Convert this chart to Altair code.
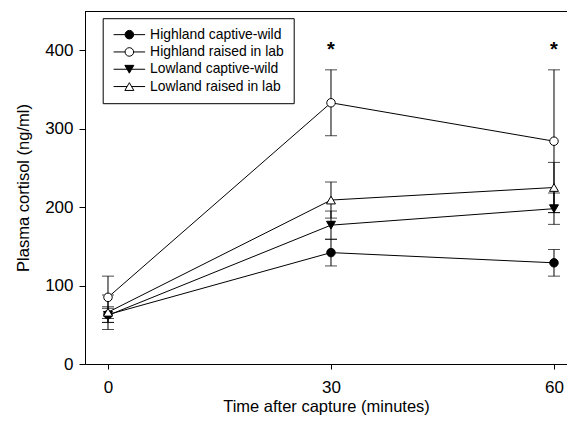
import altair as alt
import pandas as pd

# ---- data ----
series = ["Highland captive-wild", "Highland raised in lab",
          "Lowland captive-wild", "Lowland raised in lab"]
times = [0, 30, 60]
hc_mean = [63, 142, 129]
hc_err = [10, 17, 17]
hr_mean = [85, 333, 284]
hr_err = [27, 42, 91]
lc_mean = [62, 177, 198]
lc_err = [9, 18, 20]
lr_mean = [66, 209, 225]
lr_err = [22, 23, 32]
star_times = [30, 60]
star_values = [393, 393]
x_ticks = [0, 30, 60]
y_ticks = [0, 100, 200, 300, 400]

means = [hc_mean, hr_mean, lc_mean, lr_mean]
errs = [hc_err, hr_err, lc_err, lr_err]
rows = []
for name, m, e in zip(series, means, errs):
    for t, mv, ev in zip(times, m, e):
        rows.append({"series": name, "time": t, "mean": mv,
                     "lo": mv - ev, "hi": mv + ev})
df = pd.DataFrame(rows)
stars = pd.DataFrame({"time": star_times, "value": star_values,
                      "txt": ["*"] * len(star_times)})

FONT = "Liberation Sans"
W, H = 482, 353
xscale = alt.Scale(domain=[-3.094, 61.75], nice=False, zero=False)
yscale = alt.Scale(domain=[0, 450], nice=False)

x_enc = alt.X("time:Q", scale=xscale,
              axis=alt.Axis(values=x_ticks, title="Time after capture (minutes)",
                            format="d", tickSize=5, labelPadding=10,
                            titleY=47, titleBaseline="alphabetic"))
y_enc = alt.Y("mean:Q", scale=yscale,
              axis=alt.Axis(values=y_ticks, title="Plasma cortisol (ng/ml)",
                            format="d", tickSize=6, labelPadding=6, titlePadding=13))

base = alt.Chart(df)

lines = base.mark_line(color="black", strokeWidth=1).encode(
    x=x_enc, y=y_enc, detail="series:N")

bars = base.mark_rule(color="black", strokeWidth=1).encode(
    x="time:Q", y="lo:Q", y2="hi:Q")
caps_hi = base.mark_tick(color="black", orient="horizontal", size=12, thickness=1).encode(
    x="time:Q", y="hi:Q")
caps_lo = base.mark_tick(color="black", orient="horizontal", size=12, thickness=1).encode(
    x="time:Q", y="lo:Q")

marker_style = [("circle", "black", 72), ("circle", "white", 72),
                ("triangle-down", "black", 80), ("triangle-up", "white", 80)]
point_layers = []
for s, (shp, fc, sz) in zip(series, marker_style):
    point_layers.append(
        base.transform_filter(alt.datum.series == s).mark_point(
            shape=shp, fill=fc, stroke="black", strokeWidth=1, opacity=1,
            filled=False, size=sz).encode(x="time:Q", y="mean:Q"))

leg_paths = [
    "M-3.5,0H-0.95M0.95,0H3.5M0.95,0A0.95,0.95,0,1,1,-0.95,0A0.95,0.95,0,1,1,0.95,0Z",
    "M-3.5,0H-0.95M0.95,0H3.5M0.95,0A0.95,0.95,0,1,1,-0.95,0A0.95,0.95,0,1,1,0.95,0Z",
    "M-3.5,0H-0.5M0.5,0H3.5M0,0.866L-1,-0.866L1,-0.866Z",
    "M-3.5,0H-0.5M0.5,0H3.5M0,-0.866L-1,0.866L1,0.866Z",
]
fill_range = ["black", "white", "black", "white"]
stroke_range = ["black", "black", "black", "black"]
leg = alt.Legend(orient="none", legendX=17.7, legendY=7.2, title=None,
                 strokeColor="black", fillColor="white", padding=9.5,
                 symbolSize=81, symbolOffset=10.2, labelOffset=13.8, rowPadding=2.3,
                 labelFontSize=13.9, labelFont=FONT, labelColor="black",
                 symbolStrokeWidth=1, symbolOpacity=1)
legend_layer = base.transform_filter("false").mark_point(
    strokeWidth=1, opacity=1, filled=False).encode(
    x="time:Q", y="mean:Q",
    shape=alt.Shape("series:N", scale=alt.Scale(domain=series, range=leg_paths), legend=leg),
    fill=alt.Fill("series:N", scale=alt.Scale(domain=series, range=fill_range), legend=leg),
    stroke=alt.Stroke("series:N", scale=alt.Scale(domain=series, range=stroke_range), legend=leg),
)

star_layer = alt.Chart(stars).mark_text(
    font=FONT, fontSize=20, fontWeight="bold", color="black", baseline="alphabetic"
).encode(x="time:Q", y="value:Q", text="txt:N")

top_line = alt.Chart(stars.head(1)).mark_rule(color="black", strokeWidth=1).encode(
    x=alt.value(0), x2=alt.value(W), y=alt.value(0.5))

chart = alt.layer(lines, bars, caps_hi, caps_lo, *point_layers, legend_layer,
                  star_layer, top_line).properties(
    width=W, height=H,
    autosize=alt.AutoSizeParams(type="none"),
    padding={"left": 77, "top": 3, "right": 0, "bottom": 51},
).configure_view(
    stroke="transparent", strokeWidth=0
).configure_axis(
    grid=False, domainColor="black", tickColor="black", labelColor="black",
    titleColor="black", labelFont=FONT, titleFont=FONT, labelFontSize=17,
    titleFontSize=16.5, titleFontWeight="normal", domainWidth=1, tickWidth=1
)

chart.save("out.html", embed_options={"renderer": "svg", "actions": False})
